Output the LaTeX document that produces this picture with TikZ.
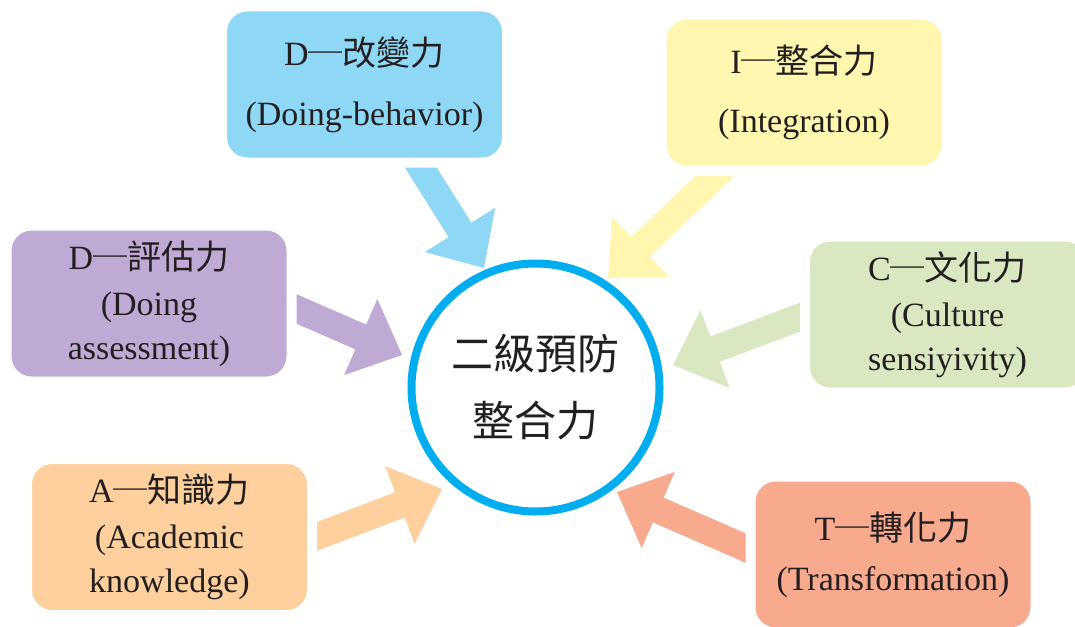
\documentclass[tikz,border=0pt]{standalone}
\usepackage{fontspec}
\setmainfont{Liberation Serif}
\newfontfamily\cjk{Noto Sans CJK TC}
\usetikzlibrary{calc}
\definecolor{ringblue}{RGB}{0,174,239}
\definecolor{skyblue}{RGB}{142,216,246}
\definecolor{paleyellow}{RGB}{255,247,175}
\definecolor{lilac}{RGB}{190,170,212}
\definecolor{palegreen}{RGB}{217,232,193}
\definecolor{peach}{RGB}{253,208,158}
\definecolor{salmon}{RGB}{248,170,142}
\definecolor{ink}{RGB}{35,31,32}
\pgfdeclarelayer{back}
\pgfsetlayers{back,main}

% block arrow: colour, tail, tip
\newcommand{\blockarrow}[3]{%
\coordinate (hb) at ($(#3)!22.5pt!(#2)$);
\fill[#1] ($(#2)!6.75pt!90:(#3)$) -- ($(hb)!6.75pt!90:(#3)$) -- ($(hb)!20.75pt!90:(#3)$) -- (#3)
  -- ($(hb)!20.75pt!-90:(#3)$) -- ($(hb)!6.75pt!-90:(#3)$) -- ($(#2)!6.75pt!-90:(#3)$) -- cycle;}

\begin{document}
\begin{tikzpicture}[line cap=round,line join=round,x=0.5pt,y=-0.5pt,
  box/.style={rounded corners=12.5pt,draw=white,line width=5pt,minimum width=142.5pt,
    minimum height=78pt,inner sep=0pt,align=center,text=ink,font=\fontsize{17}{22}\selectfont}]
\useasboundingbox (0,0) rectangle (1075,626);
%
\node[circle,draw=ringblue,line width=4pt,minimum size=124pt,inner sep=0pt,align=center,
  text=ink,font=\cjk\fontsize{21}{33.5}\selectfont] (core) at (535.5,387.5) {二級預防\\整合力};
%
\node[box,fill=skyblue] (chg) at (364.5,84.5) {D{\cjk ─改變力}\\[8pt](Doing-behavior)};
\node[box,fill=paleyellow] (intg) at (804,92.5) {I{\cjk ─整合力}\\[7.5pt](Integration)};
\node[box,fill=lilac] (asmt) at (149,303.5) {D{\cjk ─評估力}\\[1pt](Doing\\assessment)};
\node[box,fill=palegreen] (cult) at (947.5,314.5) {C{\cjk ─文化力}\\[1pt](Culture\\sensiyivity)};
\node[box,fill=peach] (acad) at (169.5,537) {A{\cjk ─知識力}\\[1pt](Academic\\knowledge)};
\node[box,fill=salmon] (trans) at (893,554.5) {T{\cjk ─轉化力}\\[3pt](Transformation)};
%
\begin{pgfonlayer}{back}
\coordinate (chgT) at (404,141);  \coordinate (chgP) at (484,268);
\coordinate (intgT) at (738,154); \coordinate (intgP) at (608,278);
\coordinate (asmtT) at (268,296.5); \coordinate (asmtP) at (402,355);
\coordinate (cultT) at (827,307); \coordinate (cultP) at (673,365);
\coordinate (acadT) at (289,547); \coordinate (acadP) at (442,489);
\coordinate (transT) at (773,560); \coordinate (transP) at (617,492);
\blockarrow{skyblue}{chgT}{chgP}
\blockarrow{paleyellow}{intgT}{intgP}
\blockarrow{lilac}{asmtT}{asmtP}
\blockarrow{palegreen}{cultT}{cultP}
\blockarrow{peach}{acadT}{acadP}
\blockarrow{salmon}{transT}{transP}
\end{pgfonlayer}
\end{tikzpicture}
\end{document}
